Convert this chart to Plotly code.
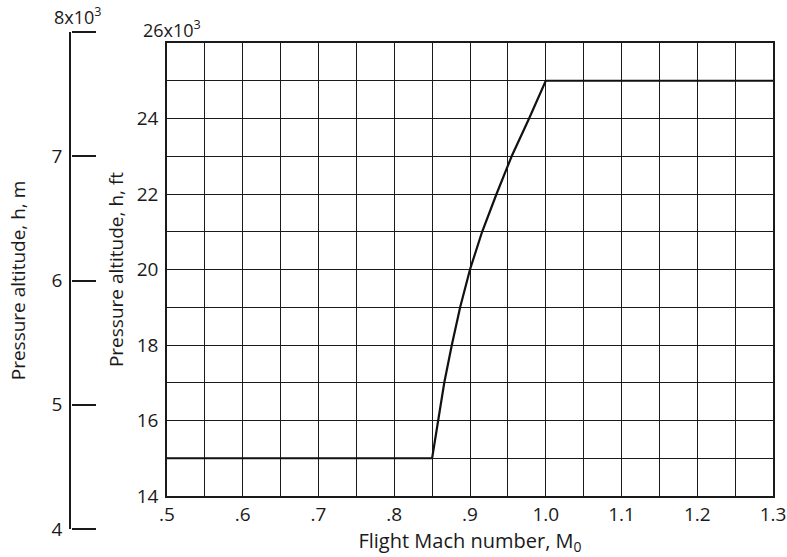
import plotly.graph_objects as go

# Flight envelope: pressure altitude (ft) against flight Mach number
mach = [0.50, 0.85, 0.858, 0.866, 0.876, 0.887, 0.900, 0.916, 0.935, 0.955, 0.978, 1.00, 1.30]
alt_kft = [15, 15, 16, 17, 18, 19, 20, 21, 22, 23, 24, 25, 25]

# Axis ticks (labelled) and grid spacing
x_tickvals = [0.5, 0.6, 0.7, 0.8, 0.9, 1.0, 1.1, 1.2, 1.3]
x_ticktext = [".5", ".6", ".7", ".8", ".9", "1.0", "1.1", "1.2", "1.3"]
x_grid_step = 0.05
y_tickvals = [14, 16, 18, 20, 22, 24]
y_ticktext = ["14", "16", "18", "20", "22", "24"]
y_grid_step = 1
m_tickvals = [4, 5, 6, 7]
m_ticktext = ["4", "5", "6", "7"]
m_tickmarks = [4, 5, 6, 7, 8]
m_range = [4, 8]

FONT = "Open Sans, Noto Sans, DejaVu Sans, sans-serif"
W, H = 787, 557
INK = "#1a1a1a"


def px_x(x):
    return x / W


def px_y(y):
    return (H - y) / H


fig = go.Figure()

fig.add_trace(go.Scatter(
    x=mach, y=alt_kft, mode="lines",
    line=dict(color="#111111", width=2.2),
    showlegend=False, hoverinfo="skip",
))

# Placeholder traces so the metre-scale axes are drawn
for ya in ("y2", "y3"):
    fig.add_trace(go.Scatter(
        x=[0], y=[6], xaxis="x2", yaxis=ya, mode="markers",
        marker=dict(opacity=0), showlegend=False, hoverinfo="skip",
    ))

grid = dict(showgrid=True, gridcolor=INK, gridwidth=1.2)

fig.update_layout(
    width=W, height=H,
    margin=dict(l=0, r=0, t=0, b=0),
    paper_bgcolor="white", plot_bgcolor="white",
    font=dict(family=FONT, size=18, color=INK),
    xaxis=dict(
        domain=[px_x(167), px_x(773)], anchor="y", automargin=False,
        range=[0.5, 1.3], tickvals=x_tickvals, ticktext=x_ticktext,
        **grid, minor=dict(dtick=x_grid_step, tick0=0.5, **grid),
        showline=True, linecolor=INK, linewidth=1.5, mirror=True,
        zeroline=False, ticks="", tickfont=dict(size=19),
        title=dict(text="Flight Mach number, M<sub>0</sub>",
                   font=dict(size=20), standoff=3),
    ),
    yaxis=dict(
        domain=[px_y(496), px_y(43)], anchor="x", automargin=False,
        range=[14, 26], tickvals=y_tickvals, ticktext=y_ticktext,
        **grid, minor=dict(dtick=y_grid_step, tick0=14, **grid),
        showline=True, linecolor=INK, linewidth=1.5, mirror=True,
        zeroline=False, ticks="", tickfont=dict(size=19),
        ticklabelstandoff=3,
        title=dict(text="Pressure altitude, h, ft",
                   font=dict(size=19), standoff=8),
    ),
    xaxis2=dict(
        domain=[px_x(71), px_x(100)], anchor="y2", visible=False,
        range=[0, 1], automargin=False,
    ),
    # Metre scale: labels and spine on the left ...
    yaxis2=dict(
        domain=[px_y(529), px_y(32)], anchor="x2", automargin=False,
        range=m_range, tickvals=m_tickvals, ticktext=m_ticktext,
        showgrid=False, zeroline=False,
        showline=True, linecolor=INK, linewidth=1.5,
        ticks="", tickfont=dict(size=19), ticklabelstandoff=3,
        title=dict(text="Pressure altitude, h, m",
                   font=dict(size=19), standoff=21),
    ),
    # ... and tick marks pointing right, including both ends
    yaxis3=dict(
        overlaying="y2", side="right", anchor="free", position=px_x(71),
        automargin=False, range=m_range, tickvals=m_tickmarks,
        showticklabels=False, showgrid=False, zeroline=False,
        showline=False, ticks="outside", ticklen=24, tickwidth=1.5,
        tickcolor=INK,
    ),
    annotations=[
        dict(text="26x10<sup>3</sup>", xref="paper", yref="paper",
             x=px_x(141), y=px_y(44), xanchor="left", yanchor="bottom",
             showarrow=False, font=dict(size=18)),
        dict(text="8x10<sup>3</sup>", xref="paper", yref="paper",
             x=px_x(52), y=px_y(31), xanchor="left", yanchor="bottom",
             showarrow=False, font=dict(size=18)),
    ],
)

fig.write_html("out.html")
